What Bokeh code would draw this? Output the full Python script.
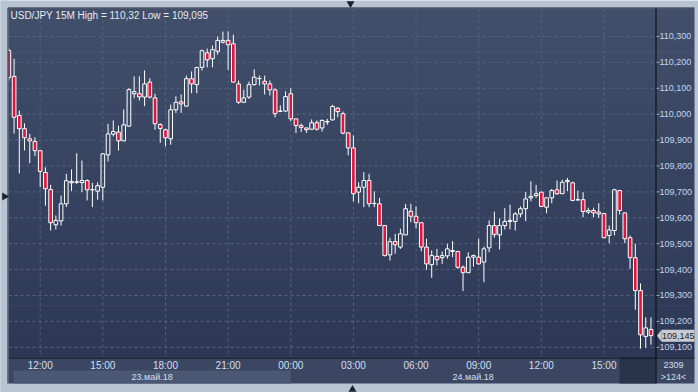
import math
import pandas as pd
from bokeh.plotting import figure
from bokeh.models import Range1d, ColumnDataSource
from bokeh.core.properties import value
from bokeh.embed import file_html
from bokeh.resources import INLINE

# ---------------- data (USD/JPY, 15 minute candles) ----------------
start_time = "2018-05-23 10:30"
opens = [110.246, 110.146, 109.995, 109.944, 109.905, 109.895, 109.859, 109.775, 109.709, 109.573,
         109.588, 109.654, 109.735, 109.737, 109.736, 109.744, 109.708, 109.703, 109.718, 109.843,
         109.923, 109.931, 109.897, 109.954, 110.079, 110.079, 110.066, 110.124, 110.063, 109.960,
         109.940, 109.905, 110.017, 110.048, 110.031, 110.137, 110.114, 110.181, 110.237, 110.214,
         110.243, 110.278, 110.285, 110.272, 110.117, 110.046, 110.066, 110.114, 110.137, 110.127,
         110.117, 110.094, 110.012, 110.012, 110.079, 109.982, 109.956, 109.947, 109.942, 109.967,
         109.947, 109.970, 109.978, 110.023, 110.002, 109.928, 109.870, 109.699, 109.718, 109.744,
         109.656, 109.654, 109.570, 109.457, 109.508, 109.487, 109.534, 109.625, 109.606, 109.581,
         109.487, 109.419, 109.451, 109.446, 109.453, 109.470, 109.470, 109.409, 109.388, 109.448,
         109.448, 109.429, 109.484, 109.570, 109.534, 109.570, 109.586, 109.586, 109.615, 109.635,
         109.677, 109.686, 109.699, 109.641, 109.677, 109.708, 109.693, 109.739, 109.735, 109.669,
         109.670, 109.622, 109.628, 109.615, 109.616, 109.532, 109.551, 109.705, 109.619, 109.523,
         109.446, 109.319, 109.142, 109.169]
highs = [110.254, 110.214, 110.014, 109.965, 109.924, 109.911, 109.860, 109.795, 109.727, 109.609,
         109.686, 109.770, 109.787, 109.849, 109.821, 109.748, 109.735, 109.737, 109.850, 109.963,
         109.976, 109.956, 110.018, 110.100, 110.146, 110.146, 110.169, 110.139, 110.079, 109.965,
         109.944, 110.037, 110.069, 110.076, 110.149, 110.165, 110.183, 110.249, 110.253, 110.265,
         110.300, 110.319, 110.320, 110.307, 110.130, 110.094, 110.126, 110.173, 110.149, 110.149,
         110.130, 110.100, 110.034, 110.088, 110.100, 109.983, 109.964, 109.948, 109.980, 109.976,
         109.980, 109.982, 110.036, 110.027, 110.010, 109.929, 109.918, 109.737, 109.776, 109.770,
         109.702, 109.677, 109.571, 109.523, 109.538, 109.558, 109.654, 109.654, 109.644, 109.582,
         109.519, 109.474, 109.480, 109.470, 109.500, 109.510, 109.471, 109.416, 109.467, 109.458,
         109.519, 109.489, 109.590, 109.624, 109.598, 109.637, 109.651, 109.622, 109.644, 109.699,
         109.741, 109.727, 109.700, 109.678, 109.712, 109.744, 109.747, 109.754, 109.740, 109.705,
         109.699, 109.639, 109.639, 109.656, 109.617, 109.570, 109.712, 109.708, 109.620, 109.532,
         109.500, 109.347, 109.216, 109.216]
lows = [110.130, 109.925, 109.771, 109.860, 109.811, 109.838, 109.718, 109.647, 109.551, 109.555,
        109.570, 109.641, 109.703, 109.731, 109.699, 109.667, 109.641, 109.670, 109.667, 109.817,
        109.914, 109.860, 109.896, 109.952, 110.062, 110.053, 110.031, 110.061, 109.940, 109.890,
        109.876, 109.882, 110.005, 110.005, 110.030, 110.081, 110.081, 110.169, 110.181, 110.181,
        110.230, 110.273, 110.171, 110.123, 110.040, 110.045, 110.059, 110.111, 110.111, 110.076,
        110.072, 109.988, 110.010, 110.008, 109.973, 109.927, 109.931, 109.928, 109.940, 109.937,
        109.933, 109.959, 109.976, 109.988, 109.922, 109.841, 109.663, 109.656, 109.641, 109.641,
        109.641, 109.569, 109.451, 109.435, 109.461, 109.480, 109.533, 109.583, 109.558, 109.471,
        109.399, 109.368, 109.416, 109.422, 109.442, 109.448, 109.403, 109.317, 109.387, 109.412,
        109.419, 109.351, 109.467, 109.523, 109.478, 109.555, 109.555, 109.551, 109.602, 109.587,
        109.664, 109.677, 109.643, 109.618, 109.656, 109.689, 109.692, 109.703, 109.664, 109.666,
        109.602, 109.615, 109.602, 109.600, 109.522, 109.502, 109.532, 109.613, 109.502, 109.403,
        109.245, 109.095, 109.098, 109.110]
closes = [110.142, 109.988, 109.944, 109.909, 109.897, 109.859, 109.779, 109.712, 109.581, 109.590,
          109.654, 109.743, 109.740, 109.739, 109.744, 109.708, 109.709, 109.724, 109.847, 109.924,
          109.933, 109.897, 109.959, 110.095, 110.087, 110.067, 110.117, 110.066, 109.963, 109.945,
          109.909, 110.017, 110.046, 110.040, 110.137, 110.117, 110.180, 110.245, 110.210, 110.249,
          110.285, 110.285, 110.268, 110.124, 110.046, 110.063, 110.114, 110.143, 110.138, 110.117,
          110.094, 110.002, 110.011, 110.068, 109.982, 109.956, 109.949, 109.940, 109.967, 109.942,
          109.976, 109.972, 110.030, 110.010, 109.927, 109.870, 109.693, 109.718, 109.744, 109.654,
          109.655, 109.570, 109.454, 109.508, 109.496, 109.538, 109.635, 109.606, 109.581, 109.487,
          109.422, 109.454, 109.438, 109.454, 109.480, 109.474, 109.409, 109.388, 109.448, 109.454,
          109.422, 109.480, 109.570, 109.536, 109.570, 109.586, 109.590, 109.615, 109.635, 109.673,
          109.683, 109.693, 109.644, 109.677, 109.705, 109.693, 109.737, 109.744, 109.667, 109.670,
          109.624, 109.628, 109.619, 109.622, 109.523, 109.553, 109.708, 109.628, 109.519, 109.446,
          109.319, 109.148, 109.175, 109.145]

price_ticks = [109.1, 109.2, 109.3, 109.4, 109.5, 109.6, 109.7, 109.8, 109.9,
               110.0, 110.1, 110.2, 110.3]
date_labels = ["23.май.18", "24.май.18"]
title_text = "USD/JPY 15M High = 110,32 Low = 109,095"
last_price_text = "109,145"
corner_top_text = "2309"
corner_bottom_text = ">124<"

# ---------------- layout (pixels of the 698x392 picture) ----------------
W, H = 698, 392
FL, FT, FR, FB = 8, 8, 655, 357        # price frame: left, top, right(axis line), bottom(axis line)
DR, DB = 694, 383                      # right / bottom edge of the dark chart window
x_first, x_last = 0.93, 124.87         # visible candle-index range across the frame
y_top, y_bottom = 110.4081, 110.4081 - 1.34749
ppx = (FR - FL) / (x_last - x_first)
ppy = (FB - FT) / (y_top - y_bottom)


def X(px):
    return x_first + (px - FL) / ppx


def Y(py):
    return y_top - (py - FT) / ppy


FONT = value("Liberation Sans")
RED = "#e3143c"
GRID = "#56647f"
LABEL_BLUE = "#c4d5f0"
PAGE = "#b8c4d3"

n = len(opens)
xs = list(range(1, n + 1))
times = pd.date_range(start_time, periods=n, freq="15min")
hour_ticks = [i + 1 for i, t in enumerate(times) if t.minute == 0 and t.hour % 3 == 0]
hour_text = [times[i - 1].strftime("%H:%M") for i in hour_ticks]
midnight_idx = [i + 1 for i, t in enumerate(times) if t.hour == 0 and t.minute == 0][0]

p = figure(width=W, height=H, x_range=Range1d(X(0), X(W)), y_range=Range1d(Y(H), Y(0)),
           x_axis_type=None, y_axis_type=None, output_backend="svg", toolbar_location=None,
           min_border=0, outline_line_color=None)
p.background_fill_color = PAGE
p.border_fill_color = PAGE
p.grid.visible = False

# ---- chart window background: vertical gradient over plot + price panel
top_rgb = (0x41, 0x4f, 0x6b)
bot_rgb = (0x2c, 0x38, 0x55)
nb = 40
g_top, g_bot, g_col = [], [], []
for k in range(nb):
    f = (k + 0.5) / nb
    g_col.append("#%02x%02x%02x" % tuple(round(a + (b - a) * f) for a, b in zip(top_rgb, bot_rgb)))
    g_top.append(Y(FT + (FB - FT) * k / nb))
    g_bot.append(Y(min(FB, FT + (FB - FT) * (k + 1) / nb + 0.7)))
p.quad(left=X(FL), right=X(DR), top=g_top, bottom=g_bot, fill_color=g_col,
       line_color=None, level="image")

# ---- time-axis panel
p.quad(left=X(FL), right=X(DR), top=Y(FB), bottom=Y(DB), fill_color="#3b4762",
       line_color=None, level="image")
band_left = X(13)
p.quad(left=band_left, right=midnight_idx, top=Y(370), bottom=Y(DB), fill_color="#4b5873",
       line_color=None, level="image")
p.quad(left=X(619), right=X(FR), top=Y(FB), bottom=Y(DB), fill_color="#29334a",
       line_color=None, level="image")

# ---- grid
p.segment(x0=hour_ticks, y0=Y(FT), x1=hour_ticks, y1=Y(FB), line_color=GRID,
          line_width=1, line_dash="3 3", level="underlay")
p.segment(x0=X(FL), y0=price_ticks, x1=X(FR), y1=price_ticks, line_color=GRID,
          line_width=1, line_dash="3 3", level="underlay")

# ---- window borders and axis lines
p.segment(x0=[X(FR + 0.5), X(FL)], y0=[Y(FT), Y(FB + 0.5)],
          x1=[X(FR + 0.5), X(DR)], y1=[Y(DB), Y(FB + 0.5)],
          line_color="#07090d", line_width=1, level="underlay")

# ---- candles
body_top = [max(o, c) for o, c in zip(opens, closes)]
body_bot = [min(o, c) for o, c in zip(opens, closes)]
fill_alpha = [1.0 if c < o else 0.0 for o, c in zip(opens, closes)]
src = ColumnDataSource(dict(x=xs, h=highs, l=lows, top=body_top, bot=body_bot, fa=fill_alpha))
p.segment(x0="x", y0="h", x1="x", y1="top", source=src, line_color="white", line_width=1)
p.segment(x0="x", y0="bot", x1="x", y1="l", source=src, line_color="white", line_width=1)
p.vbar(x="x", width=0.7, top="top", bottom="bot", source=src,
       fill_color=RED, fill_alpha="fa", line_color="white", line_width=1)

# ---- outer page margin drawn over the clipped first candle, plus window border
p.quad(left=X(0), right=X(FL), top=Y(0), bottom=Y(H), fill_color=PAGE, line_color=None,
       level="overlay")
p.segment(x0=[X(FL - 0.5), X(FL - 0.5)], y0=[Y(FT - 0.5), Y(FT - 0.5)],
          x1=[X(DR), X(FL - 0.5)], y1=[Y(FT - 0.5), Y(DB)],
          line_color="#1c2230", line_width=1, level="overlay")

# ---- price scale (right)
price_text = [f"{t:.3f}".replace(".", ",") for t in price_ticks]
p.segment(x0=X(FR + 1), y0=price_ticks, x1=X(FR + 4), y1=price_ticks,
          line_color="#8fabd8", line_width=1)
p.text(x=X(FR + 4), y=price_ticks, text=price_text, text_align="left",
       text_baseline="middle", text_font=FONT, text_font_size="9px",
       text_color=LABEL_BLUE)

# ---- time scale (bottom)
p.text(x=hour_ticks, y=Y(365), text=hour_text, text_align="center", text_baseline="middle",
       text_font=FONT, text_font_size="10px", text_color="#d3dff0")
date_centers = [(band_left + midnight_idx) / 2, (midnight_idx + X(FR)) / 2]
p.text(x=date_centers, y=Y(376), text=date_labels, text_align="center",
       text_baseline="middle", text_font=FONT, text_font_size="9px", text_color="#d3dff0")

# ---- title
p.text(x=[X(10)], y=[Y(14.7)], text=[title_text], text_align="left", text_baseline="middle",
       text_font=FONT, text_font_size="10px", text_color="#e6e9ee")

# ---- last price tag
last = closes[-1]
p.patch(x=[X(FR + 1.5), X(FR + 6), X(FR + 6)], y=[last, last + 6 / ppy, last - 6 / ppy],
        fill_color="#c9ccd3", line_color=None)
p.quad(left=X(FR + 6), right=X(DR), top=last + 6 / ppy, bottom=last - 6 / ppy,
       fill_color="#c9ccd3", line_color=None)
p.text(x=[X(FR + 6.5)], y=[last], text=[last_price_text], text_align="left",
       text_baseline="middle", text_font=FONT, text_font_size="9px", text_color="#1b1e24")

# ---- corner counters
p.text(x=[X(673), X(673)], y=[Y(364.7), Y(376.7)], text=[corner_top_text, corner_bottom_text],
       text_align="center", text_baseline="middle", text_font=FONT, text_font_size="9px",
       text_color="#d3dff0")

# ---- small scroll markers in the outer frame
p.scatter(x=[X(350), X(352), X(4)], y=[Y(3), Y(389), Y(196)], marker="triangle",
          angle=[math.pi, 0, -math.pi / 2], size=8, fill_color="#1b2130", line_color=None,
          level="overlay")

html = file_html(p, INLINE)
open("out.html", "w").write(html)
